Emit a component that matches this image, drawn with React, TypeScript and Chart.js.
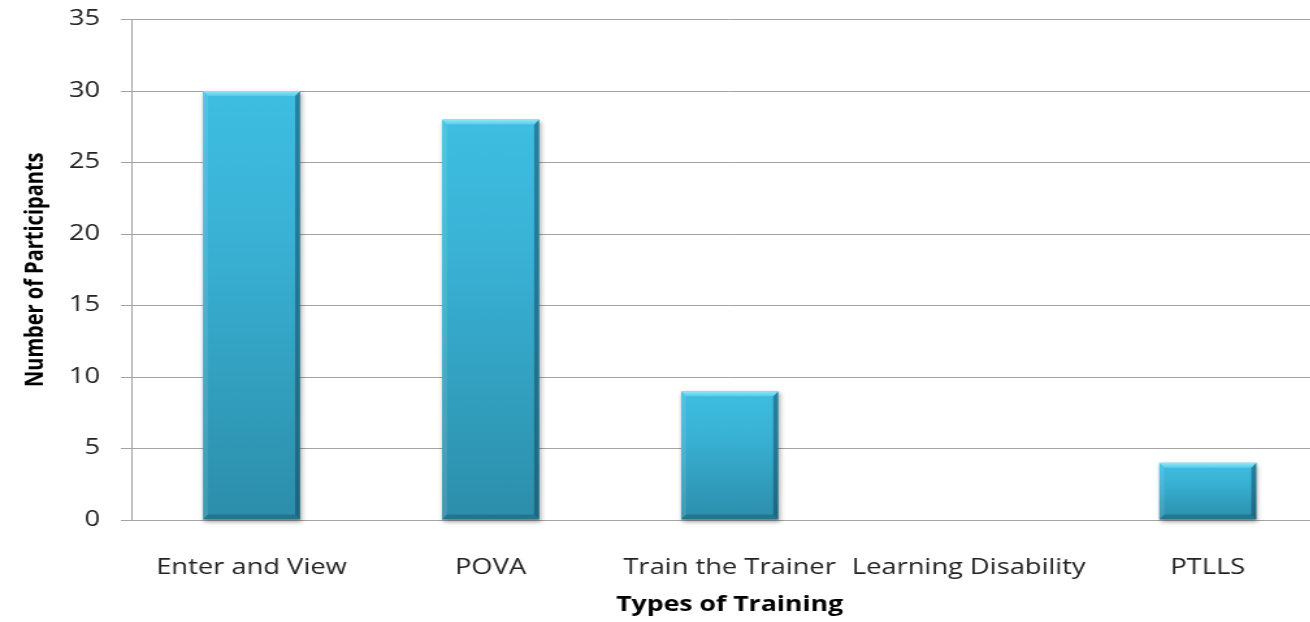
import React, { useEffect, useRef } from "react";
import { Chart, registerables } from "chart.js";

Chart.register(...registerables);

const categories = ["Enter and View", "POVA", "Train the Trainer", "Learning Disability", "PTLLS"];
const participants = [30, 28, 9, 0, 4];
const yMin = 0;
const yMax = 35;
const yStep = 5;
const xTitle = "Types of Training";
const yTitle = "Number of Participants";

const STRETCH = 1.3;
const INNER_W = 1021;
const H = 622;

const FACE_TOP = "#3ebee2";
const FACE_BOTTOM = "#2c8eaa";
const GRID = "#a3a3a3";

const bevelPlugin = {
  id: "bevel",
  beforeDatasetDraw(chart: any) {
    const c = chart.ctx;
    c.save();
    c.shadowColor = "rgba(0,0,0,0.35)";
    c.shadowBlur = 4;
    c.shadowOffsetX = 1;
    c.shadowOffsetY = 2;
  },
  afterDatasetDraw(chart: any) {
    chart.ctx.restore();
  },
  afterDatasetsDraw(chart: any) {
    const c = chart.ctx;
    const meta = chart.getDatasetMeta(0);
    meta.data.forEach((el: any) => {
      const { x, y, base, width } = el.getProps(["x", "y", "base", "width"], true);
      const h = base - y;
      if (h < 1) return;
      const L = x - width / 2;
      const R = x + width / 2;
      const T = y;
      const B = base;
      const bx = 3.8;
      const by = Math.min(5, h / 2);
      const poly = (pts: number[][], fill: any) => {
        c.beginPath();
        c.moveTo(pts[0][0], pts[0][1]);
        for (let i = 1; i < pts.length; i++) c.lineTo(pts[i][0], pts[i][1]);
        c.closePath();
        c.fillStyle = fill;
        c.fill();
      };
      c.save();
      poly([[L, T], [L + bx, T + by], [L + bx, B - by], [L, B]], "rgba(255,255,255,0.10)");
      poly([[R, T], [R - bx, T + by], [R - bx, B - by], [R, B]], "rgba(10,55,75,0.45)");
      poly([[L, B], [L + bx, B - by], [R - bx, B - by], [R, B]], "rgba(10,55,75,0.28)");
      const g = c.createLinearGradient(0, T, 0, T + by);
      g.addColorStop(0, "#8fe7f8");
      g.addColorStop(1, "#57cbea");
      poly([[L, T], [R, T], [R - bx, T + by], [L + bx, T + by]], g);
      c.restore();
    });
  },
};

export default function App() {
  const canvasRef = useRef<HTMLCanvasElement | null>(null);

  useEffect(() => {
    const canvas = canvasRef.current;
    if (!canvas) return;
    const chart = new Chart(canvas, {
      type: "bar",
      data: {
        labels: categories,
        datasets: [
          {
            label: yTitle,
            data: participants,
            clip: false as any,
            borderWidth: 0,
            barPercentage: 0.406,
            categoryPercentage: 1,
            backgroundColor: (ctx: any) => {
              const chart = ctx.chart;
              const ys = chart.scales && chart.scales.y;
              if (!chart.chartArea || !ys || typeof ctx.raw !== "number") return FACE_TOP;
              const top = ys.getPixelForValue(ctx.raw);
              const bot = ys.getPixelForValue(0);
              if (bot - top < 1) return FACE_TOP;
              const g = chart.ctx.createLinearGradient(0, top, 0, bot);
              g.addColorStop(0, FACE_TOP);
              g.addColorStop(0.35, "#39b1d4");
              g.addColorStop(1, FACE_BOTTOM);
              return g;
            },
          },
        ],
      },
      options: {
        animation: false,
        responsive: true,
        maintainAspectRatio: false,
        layout: { padding: { top: 19.5, left: 0, right: 0, bottom: 0 } },
        plugins: {
          legend: { display: false },
          tooltip: { enabled: false },
        },
        scales: {
          x: {
            grid: { display: false },
            border: { display: true, color: GRID, width: 1 },
            ticks: {
              autoSkip: false,
              maxRotation: 0,
              minRotation: 0,
              padding: 27,
              color: "#222",
              font: { family: "'Open Sans'", size: 21 },
            },
            title: {
              display: true,
              text: xTitle,
              color: "#000",
              padding: { top: 0, bottom: 4.7 },
              font: { family: "'Open Sans'", size: 20.5, weight: "bold" },
            },
            afterFit: (s: any) => {
              s.height = 102;
              s.paddingLeft = 0;
              s.paddingRight = 0;
            },
          },
          y: {
            min: yMin,
            max: yMax,
            grid: { color: GRID, lineWidth: 1, tickLength: 8.5, drawTicks: true },
            border: { display: true, color: GRID, width: 1 },
            ticks: {
              stepSize: yStep,
              padding: 16,
              color: "#222",
              font: { family: "'Open Sans'", size: 21 },
            },
            title: {
              display: true,
              text: yTitle,
              color: "#000",
              padding: { top: 15, bottom: 0 },
              font: { family: "'Open Sans'", size: 20, weight: "bold" },
            },
            afterFit: (s: any) => {
              s.width = 101.5;
              s.paddingTop = 0;
              s.paddingBottom = 0;
            },
          },
        },
      },
      plugins: [bevelPlugin],
    });
    return () => chart.destroy();
  }, []);

  return (
    <div
      style={{
        position: "fixed",
        left: 0,
        top: 0,
        width: 1310,
        height: H,
        overflow: "hidden",
        background: "#fff",
      }}
    >
      <div
        style={{
          width: INNER_W,
          height: H,
          transform: `scaleX(${STRETCH})`,
          transformOrigin: "0 0",
        }}
      >
        <canvas ref={canvasRef} />
      </div>
    </div>
  );
}
